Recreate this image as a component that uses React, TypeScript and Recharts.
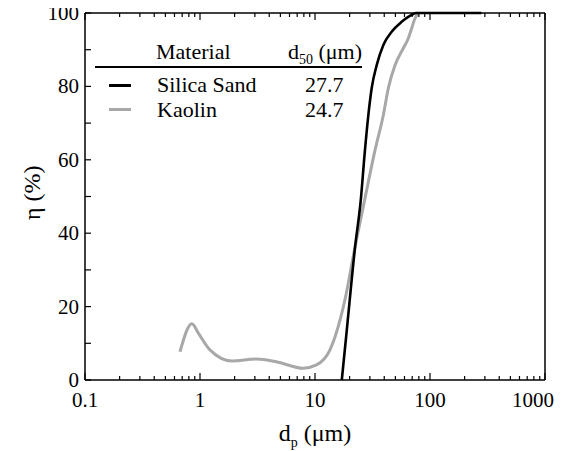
import { LineChart, Line, XAxis, YAxis } from "recharts";

// particle diameter (µm) vs collection efficiency (%)
const sandD = [17.1, 18.9, 22.3, 25, 27.2, 29.1, 31.1, 34.4, 39.3, 46.4, 56.7, 69.2, 76, 150, 280];
const sandEta = [0, 13.6, 36.2, 49, 62.7, 72.2, 79.5, 85.8, 91.3, 94.9, 97.6, 99.5, 100, 100, 100];

const kaolinD = [0.67, 0.85, 0.97, 1.22, 1.89, 3.1, 4.6, 7.9, 10.3, 13.5, 16.5, 18.2, 22.3, 27, 33.3, 39.3, 43.4, 49.7, 58.6, 64.8, 69.2, 74, 79];
const kaolinEta = [7.7, 15.3, 12.7, 8.2, 5.2, 5.7, 5.0, 3.2, 4.1, 8.2, 16.3, 21.8, 36.3, 49, 62.7, 72.2, 79.5, 85.8, 90.4, 93.1, 95.8, 98.5, 100];

const MAJOR_X = [0.1, 1, 10, 100, 1000];
const MINOR_X = [
  0.2, 0.3, 0.4, 0.5, 0.6, 0.7, 0.8, 0.9,
  2, 3, 4, 5, 6, 7, 8, 9,
  20, 30, 40, 50, 60, 70, 80, 90,
  200, 300, 400, 500, 600, 700, 800, 900,
];
const Y_TICKS = [0, 10, 20, 30, 40, 50, 60, 70, 80, 90, 100];
const Y_LABELS = [0, 20, 40, 60, 80, 100];

const legendRows = [
  { name: "Silica Sand", d50: "27.7", color: "#000000" },
  { name: "Kaolin", d50: "24.7", color: "#a8a8a8" },
];

const FONT = "'Liberation Serif', 'Times New Roman', serif";
const sand = sandD.map((d, i) => ({ d, eta: sandEta[i] }));
const kaolin = kaolinD.map((d, i) => ({ d, eta: kaolinEta[i] }));
const allX = [...MAJOR_X, ...MINOR_X].sort((a, b) => a - b);

function BottomTick({ x, y, payload }: any) {
  const v = payload.value;
  const major = MAJOR_X.includes(v);
  const last = v === 1000;
  return (
    <g>
      <line x1={x} x2={x} y1={y} y2={y - (major ? 7 : 4)} stroke="#000" strokeWidth={1.2} />
      {major && (
        <text x={last ? x - 12 : x} y={y + 27} textAnchor="middle" fontSize={21} fontFamily={FONT} fill="#000">
          {v}
        </text>
      )}
    </g>
  );
}

function TopTick({ x, y, payload }: any) {
  const major = MAJOR_X.includes(payload.value);
  return <line x1={x} x2={x} y1={y} y2={y + (major ? 7 : 4)} stroke="#000" strokeWidth={1.2} />;
}

function LeftTick({ x, y, payload }: any) {
  return (
    <g>
      <line x1={x} x2={x + 6} y1={y} y2={y} stroke="#000" strokeWidth={1.2} />
      {Y_LABELS.includes(payload.value) && (
        <text x={x - 6} y={y + 7} textAnchor="end" fontSize={21} fontFamily={FONT} fill="#000">
          {payload.value}
        </text>
      )}
    </g>
  );
}

function RightTick({ x, y }: any) {
  return <line x1={x} x2={x - 6} y1={y} y2={y} stroke="#000" strokeWidth={1.2} />;
}

const txt = { position: "absolute" as const, fontFamily: FONT, color: "#000", whiteSpace: "nowrap" as const };

export default function App() {
  const axisLine = { stroke: "#000", strokeWidth: 1.5 };
  return (
    <div style={{ position: "relative", width: 549, height: 443 }}>
      <style>{".recharts-surface{overflow:visible}"}</style>
      <LineChart width={549} height={435} margin={{ top: 0, right: 11, bottom: 0, left: 0 }}>
        <XAxis xAxisId="b" dataKey="d" type="number" scale="log" domain={[0.1, 1000]} allowDataOverflow
          ticks={allX} interval={0} tickSize={0} tickMargin={0} height={63}
          axisLine={axisLine} tickLine={false} tick={<BottomTick />} />
        <XAxis xAxisId="t" orientation="top" dataKey="d" type="number" scale="log" domain={[0.1, 1000]} allowDataOverflow
          ticks={allX} interval={0} tickSize={0} tickMargin={0} height={5}
          axisLine={axisLine} tickLine={false} tick={<TopTick />} />
        <YAxis yAxisId="l" type="number" domain={[0, 100]} ticks={Y_TICKS} interval={0}
          tickSize={0} tickMargin={0} width={77} axisLine={axisLine} tickLine={false} tick={<LeftTick />} />
        <YAxis yAxisId="r" orientation="right" type="number" domain={[0, 100]} ticks={Y_TICKS} interval={0}
          tickSize={0} tickMargin={0} width={1} axisLine={axisLine} tickLine={false} tick={<RightTick />} />
        <Line xAxisId="b" yAxisId="l" data={kaolin} dataKey="eta" type="monotone" stroke="#a8a8a8"
          strokeWidth={3} dot={false} isAnimationActive={false} />
        <Line xAxisId="b" yAxisId="l" data={sand} dataKey="eta" type="monotone" stroke="#000"
          strokeWidth={2.6} dot={false} isAnimationActive={false} />
      </LineChart>

      {/* axis titles */}
      <div style={{ ...txt, left: 0, top: 168, width: 48, height: 40, fontSize: 24, lineHeight: "40px",
        textAlign: "center", transform: "rotate(-90deg)" }}>η (%)</div>
      <div style={{ ...txt, left: 207, width: 200, top: 413, fontSize: 24, lineHeight: "24px", textAlign: "center" }}>
        d<sub style={{ fontSize: 14, lineHeight: 0 }}>p</sub> (μm)
      </div>

      {/* table legend */}
      <div style={{ ...txt, left: 148, top: 32, fontSize: 22, lineHeight: "24px" }}>Material</div>
      <div style={{ ...txt, left: 280, top: 32, fontSize: 22, lineHeight: "24px" }}>
        d<sub style={{ fontSize: 14, lineHeight: 0 }}>50</sub> (μm)
      </div>
      <div style={{ position: "absolute", left: 87, top: 58, width: 267, height: 1.5, background: "#000" }} />
      {legendRows.map((r, i) => (
        <div key={r.name}>
          <div style={{ position: "absolute", left: 101, top: 76 + i * 24, width: 22, height: 3, background: r.color }} />
          <div style={{ ...txt, left: 149, top: 65 + i * 24.5, fontSize: 22, lineHeight: "24px" }}>{r.name}</div>
          <div style={{ ...txt, left: 297, top: 65 + i * 24.5, fontSize: 22, lineHeight: "24px" }}>{r.d50}</div>
        </div>
      ))}
    </div>
  );
}
